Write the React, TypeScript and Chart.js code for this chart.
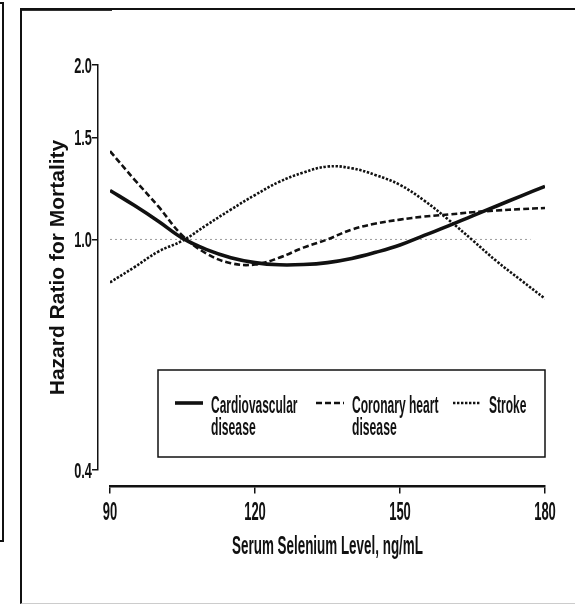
import { useEffect, useRef } from 'react';
import { Chart, registerables, type ChartConfiguration, type Plugin } from 'chart.js';

Chart.register(...registerables);

/* ─── Data ─────────────────────────────────────────────────────────────── */

const SELENIUM = [90, 95, 100, 105, 110, 115, 120, 125, 130, 135, 140, 145, 150, 155, 160, 165, 170, 175, 180];

const CVD_HR = [1.215, 1.145, 1.075, 1.005, 0.96, 0.93, 0.912, 0.904, 0.905, 0.912, 0.927, 0.95, 0.978, 1.016, 1.055, 1.098, 1.142, 1.188, 1.235];
const CHD_HR = [1.42, 1.27, 1.14, 1.015, 0.945, 0.91, 0.905, 0.93, 0.968, 1.0, 1.04, 1.065, 1.082, 1.095, 1.104, 1.114, 1.122, 1.128, 1.133];
const STROKE_HR = [0.843, 0.895, 0.953, 0.995, 1.059, 1.126, 1.193, 1.257, 1.304, 1.336, 1.327, 1.291, 1.242, 1.167, 1.082, 0.997, 0.917, 0.851, 0.79];

const REFERENCE_X = [90, 177];
const REFERENCE_HR = [1, 1];

const X_TICKS = [90, 120, 150, 180];
const Y_TICKS = [0.4, 1.0, 1.5, 2.0];

const SERIES_NAMES = ['Cardiovascular disease', 'Coronary heart disease', 'Stroke'];
const LEGEND_LINES = [['Cardiovascular', 'disease'], ['Coronary heart', 'disease'], ['Stroke']];

const X_TITLE = 'Serum Selenium Level, ng/mL';
const Y_TITLE = 'Hazard Ratio for Mortality';

/* ─── Style ────────────────────────────────────────────────────────────── */

const INK = '#111111';
const FONT = "'Liberation Sans', Arial, sans-serif";

// axes sit apart from the plot area (offset spines)
const Y_AXIS_AT = 87.5; // x value where the y spine is drawn
const X_AXIS_AT = 0.375; // y value where the x spine is drawn

const LINE_STYLE = [
  { width: 3.6, dash: [] as number[] },
  { width: 2.6, dash: [6, 3] },
  { width: 2.6, dash: [2.4, 1.6] },
];

/* ─── Helpers ──────────────────────────────────────────────────────────── */

// the figure uses a condensed face: width taken from the regular face, drawn bold and squeezed
function squeezed(
  ctx: CanvasRenderingContext2D, text: string, x: number, y: number,
  align: CanvasTextAlign, size: number, squeeze: number,
) {
  ctx.textAlign = align;
  ctx.font = `${size}px ${FONT}`;
  const w = ctx.measureText(text).width * squeeze;
  ctx.font = `bold ${size}px ${FONT}`;
  ctx.fillText(text, x, y, w);
}

const figureText: Plugin<'line'> = {
  id: 'figureText',
  afterDraw(chart) {
    const { ctx, chartArea } = chart;
    const xs = chart.scales.x;
    const ys = chart.scales.y;
    const axisX = xs.getPixelForValue(Y_AXIS_AT);
    const axisY = ys.getPixelForValue(X_AXIS_AT);

    ctx.save();
    ctx.fillStyle = INK;
    ctx.textBaseline = 'alphabetic';

    // tick labels
    xs.ticks.forEach((t) => squeezed(ctx, String(t.value), xs.getPixelForValue(t.value), axisY + 34, 'center', 25, 0.52));
    ys.ticks.forEach((t) => squeezed(ctx, t.value.toFixed(1), axisX - 6, ys.getPixelForValue(t.value) + 8, 'right', 22, 0.58));

    // axis titles
    squeezed(ctx, X_TITLE, (chartArea.left + chartArea.right) / 2, axisY + 68, 'center', 25, 0.57);

    ctx.save();
    ctx.translate(axisX - 40, (chartArea.top + chartArea.bottom) / 2);
    ctx.rotate(-Math.PI / 2);
    ctx.font = `bold 21px ${FONT}`;
    ctx.textAlign = 'center';
    ctx.textBaseline = 'middle';
    ctx.fillText(Y_TITLE, 0, 0);
    ctx.restore();

    // legend box
    const box = { left: chartArea.left + 48, right: chartArea.right, top: chartArea.bottom - 100, bottom: chartArea.bottom - 13 };
    ctx.strokeStyle = INK;
    ctx.lineWidth = 1.5;
    ctx.setLineDash([]);
    ctx.strokeRect(box.left, box.top, box.right - box.left, box.bottom - box.top);

    const itemX = [17, 158, 295];
    LEGEND_LINES.forEach((lines, i) => {
      const ds = chart.data.datasets[i] as any;
      const x0 = box.left + itemX[i];
      ctx.beginPath();
      ctx.lineWidth = ds.borderWidth;
      ctx.setLineDash(ds.borderDash ?? []);
      ctx.moveTo(x0, box.top + 33);
      ctx.lineTo(x0 + 28, box.top + 33);
      ctx.stroke();
      lines.forEach((line, k) => squeezed(ctx, line, x0 + 36, box.top + 43 + k * 22, 'left', 24, 0.54));
    });

    ctx.restore();
  },
};

/* ─── Component ────────────────────────────────────────────────────────── */

export default function App() {
  const canvasRef = useRef<HTMLCanvasElement>(null);

  useEffect(() => {
    if (!canvasRef.current) return;

    const series = [CVD_HR, CHD_HR, STROKE_HR];

    const config: ChartConfiguration<'line'> = {
      type: 'line',
      data: {
        datasets: [
          ...series.map((values, i) => ({
            label: SERIES_NAMES[i],
            data: SELENIUM.map((x, j) => ({ x, y: values[j] })),
            borderColor: INK,
            borderWidth: LINE_STYLE[i].width,
            borderDash: LINE_STYLE[i].dash,
            pointRadius: 0,
            tension: 0.4,
            fill: false,
          })),
          {
            label: 'Reference',
            data: REFERENCE_X.map((x, j) => ({ x, y: REFERENCE_HR[j] })),
            borderColor: '#9a9a9a',
            borderWidth: 1,
            borderDash: [2, 3],
            pointRadius: 0,
            fill: false,
          },
        ],
      },
      options: {
        animation: false,
        responsive: true,
        maintainAspectRatio: false,
        layout: { padding: { left: 110, top: 65, right: 30, bottom: 135 } },
        plugins: {
          legend: { display: false },
          tooltip: { enabled: false },
        },
        scales: {
          x: {
            type: 'linear',
            min: 90,
            max: 180,
            position: { y: X_AXIS_AT } as any,
            afterBuildTicks: (s) => { s.ticks = X_TICKS.map((value) => ({ value })); },
            afterFit: (s) => { s.height = 0; },
            ticks: { display: false },
            grid: { drawOnChartArea: false, drawTicks: true, tickLength: 6, color: INK, lineWidth: 1.5 },
            border: { display: true, color: INK, width: 2.5 },
          },
          y: {
            type: 'logarithmic',
            min: 0.4,
            max: 2.0,
            position: { x: Y_AXIS_AT } as any,
            afterBuildTicks: (s) => { s.ticks = Y_TICKS.map((value) => ({ value })); },
            afterFit: (s) => { s.width = 0; },
            ticks: { display: false },
            grid: { drawOnChartArea: false, drawTicks: true, tickLength: 5, color: INK, lineWidth: 1.5 },
            border: { display: true, color: INK, width: 1.5 },
          },
        },
      },
      plugins: [figureText],
    };

    const chart = new Chart(canvasRef.current, config);
    return () => { chart.destroy(); };
  }, []);

  return (
    <div style={{ position: 'fixed', left: 0, top: 0, width: 575, height: 605, overflow: 'hidden', background: '#fff' }}>
      {/* edge of the neighbouring panel */}
      <div style={{ position: 'absolute', left: -20, top: 2, width: 24, height: 540, border: '2px solid #111', boxSizing: 'border-box' }} />
      {/* panel frame */}
      <div style={{ position: 'absolute', left: 20, top: 8, width: 600, height: 596, borderLeft: '2px solid #111', borderTop: '2px solid #111', borderBottom: '1px solid #ccc', boxSizing: 'border-box' }} />
      <div style={{ position: 'absolute', left: 22, top: 10, width: 90, height: 1, background: '#333' }} />
      <div style={{ position: 'absolute', left: 0, top: 0, width: 575, height: 605 }}>
        <canvas ref={canvasRef} />
      </div>
    </div>
  );
}
